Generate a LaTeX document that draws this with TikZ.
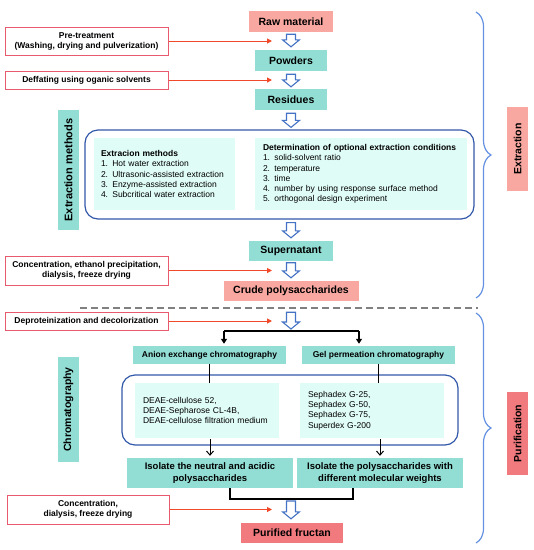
\documentclass[tikz,border=0pt]{standalone}
\usepackage{fontspec}
\setmainfont{Liberation Sans}
\usetikzlibrary{arrows.meta,calc,decorations.pathreplacing}
\definecolor{salmon}{RGB}{248,168,160}
\definecolor{salmondk}{RGB}{240,122,126}
\definecolor{tealbox}{RGB}{147,222,212}
\definecolor{paleteal}{RGB}{224,252,247}
\definecolor{redbord}{RGB}{232,90,110}
\definecolor{redarr}{RGB}{240,72,40}
\definecolor{bluebox}{RGB}{50,88,170}
\definecolor{bluearr}{RGB}{68,114,196}
\definecolor{bracecol}{RGB}{100,145,225}
\newcommand\hollowarr[2]{%
  \draw[hollow] let \p1=(#1), \p2=(#2) in
   (\x1-4.5pt,\y1) -- (\x1+4.5pt,\y1) -- (\x1+4.5pt,\y2+7pt) -- (\x1+8.5pt,\y2+7pt)
   -- (\x1,\y2) -- (\x1-8.5pt,\y2+7pt) -- (\x1-4.5pt,\y2+7pt) -- cycle;}
\tikzset{
  sz/.style 2 args={minimum width=#1 pt, minimum height=#2 pt},
  mainbox/.style={inner sep=0pt, font=\fontsize{10.5}{12}\selectfont\bfseries},
  leftbox/.style={draw=redbord, line width=1pt, fill=white, inner sep=0pt, align=center,
    font=\fontsize{8.5}{10}\selectfont\bfseries},
  innerbox/.style={fill=paleteal, inner ysep=0pt, inner xsep=7pt, align=left,
    font=\fontsize{8.5}{10.25}\selectfont},
  bigbox/.style={draw=bluebox, line width=1.2pt, rounded corners=13pt, inner sep=0pt},
  headbox/.style={fill=tealbox, inner sep=0pt, font=\fontsize{8.5}{10}\selectfont\bfseries},
  isobox/.style={fill=tealbox, inner sep=0pt, align=center, font=\fontsize{9.5}{12}\selectfont\bfseries},
  sidelab/.style={inner sep=0pt, rotate=90, font=\fontsize{10.5}{12}\selectfont\bfseries},
  hollow/.style={draw=bluearr, line width=1.1pt, fill=white, line join=miter},
  redline/.style={draw=redarr, line width=1pt, -{Triangle[width=5pt,length=5pt]}},
  blk/.style={draw=black, line width=1.3pt},
  blktip/.style={blk, -{Triangle[width=6pt,length=5pt]}},
  blkopen/.style={draw=black, line width=1pt, -{Straight Barb[width=7pt,length=4pt]}},
  bracedraw/.style={draw=bracecol, line width=1.2pt, decorate, decoration={brace, amplitude=15pt}},
  sepline/.style={draw=gray, line width=1.5pt, dash pattern=on 7pt off 4pt}
}
\begin{document}
\begin{tikzpicture}[x=1pt,y=-1pt]
\useasboundingbox (0,0) rectangle (534,550);
% main column
\node[mainbox, fill=salmon, sz={84}{21}] (raw) at (291,21.5) {Raw material};
\node[mainbox, fill=tealbox, sz={72}{21}] (powders) at (291,60.5) {Powders};
\node[mainbox, fill=tealbox, sz={72}{21}] (residues) at (291,99.5) {Residues};
\node[bigbox, sz={389}{89}] (ebox) at (279.5,174.5) {};
\node[innerbox, text width=127pt, minimum height=72pt] (em) at (164.5,174) {\textbf{Extracion methods}\\1. Hot water extraction\\2. Ultrasonic-assisted extraction\\3. Enzyme-assisted extraction\\4. Subcritical water extraction};
\node[innerbox, inner xsep=8pt, text width=196pt, minimum height=72pt] (dc) at (361,174) {\textbf{Determination of optional extraction conditions}\\1. solid-solvent ratio\\2. temperature\\3. time\\4. number by using response surface method\\5. orthogonal design experiment};
\node[mainbox, fill=tealbox, sz={84}{20}] (super) at (291,251) {Supernatant};
\node[mainbox, fill=salmon, sz={135}{20}] (crude) at (291,291) {Crude polysaccharides};
% left boxes
\node[leftbox, sz={163}{28}] (pre) at (86.5,41) {Pre-treatment\\(Washing, drying and pulverization)};
\node[leftbox, sz={163}{18}] (def) at (86.5,80) {Deffating using oganic solvents};
\node[leftbox, sz={163}{29}] (conc1) at (86.5,270.5) {Concentration, ethanol precipitation,\\dialysis, freeze drying};
\node[leftbox, sz={163}{18}] (dep) at (86.5,321) {Deproteinization and decolorization};
\node[leftbox, sz={162}{29}] (conc2) at (88,509.5) {Concentration,\\dialysis, freeze drying};
\coordinate (tipx) at (272,0);
\foreach \b in {pre,def,conc1,dep,conc2}{\draw[redline] (\b.east) -- (\b.east -| tipx);}
% side labels
\node[sidelab, font=\fontsize{11}{12}\selectfont\bfseries, fill=tealbox, sz={120}{21}] (exm) at (68.5,170) {Extraction methods};
\node[sidelab, fill=tealbox, sz={105}{21}] (chm) at (68.5,409.5) {Chromatography};
\node[sidelab, fill=salmon, sz={84}{21}] (extl) at (517.5,149) {Extraction};
\node[sidelab, fill=salmondk, sz={83}{21}] (purl) at (517.5,433.5) {Purification};
% braces and separator
\coordinate (b1t) at (476,12); \coordinate (b1b) at (476,298);
\coordinate (b2t) at (476,313); \coordinate (b2b) at (476,543);
\draw[bracedraw] (b1t) -- (b1b);
\draw[bracedraw] (b2t) -- (b2b);
\coordinate (s1) at (80,308); \coordinate (s2) at (478,308);
\draw[sepline] (s1) -- (s2);
% purification part
\node[headbox, sz={153}{18}] (anion) at (209.5,355) {Anion exchange chromatography};
\node[headbox, sz={153}{18}] (gel) at (378.5,355) {Gel permeation chromatography};
\node[bigbox, sz={336}{70}] (cbox) at (290,410) {};
\node[innerbox, inner xsep=8pt, text width=128pt, minimum height=55pt] (cl) at (207,410.5) {DEAE-cellulose 52,\\DEAE-Sepharose CL-4B,\\DEAE-cellulose filtration medium};
\node[innerbox, inner xsep=8pt, text width=128pt, minimum height=55pt] (cr) at (372,410.5) {Sephadex G-25,\\Sephadex G-50,\\Sephadex G-75,\\Superdex G-200};
\node[isobox, sz={166}{30}] (isoL) at (210,473) {Isolate the neutral and acidic\\polysaccharides};
\node[isobox, sz={166}{30}] (isoR) at (380,473) {Isolate the polysaccharides with\\different molecular weights};
\node[mainbox, fill=salmondk, sz={102}{20}] (pur) at (292,533) {Purified fructan};
% black connectors
\coordinate (j) at (291,331); \coordinate (jl) at (224,331); \coordinate (jr) at (359,331);
\draw[blk] (jl) -- (jr);
\draw[blktip] (jl) -- ($(jl |- anion.north)+(0,-2)$);
\draw[blktip] (jr) -- ($(jr |- gel.north)+(0,-2)$);
\draw[blk, line width=1pt] (anion.south) -- (anion.south |- cl.north);
\draw[blk, line width=1pt] (gel.south) -- (gel.south |- cr.north);
\draw[blkopen] ($(isoL.north |- cl.south)+(0,1)$) -- ($(isoL.north)+(0,-2)$);
\draw[blkopen] ($(isoR.north |- cr.south)+(0,1)$) -- ($(isoR.north)+(0,-2)$);
\coordinate (bl) at (230,499); \coordinate (br) at (353,499); \coordinate (bm) at (291,499);
\draw[blk] (bl |- isoL.south) -- (bl) -- (br) -- (br |- isoR.south);
% hollow arrows
\hollowarr{$(raw.south)+(0,2)$}{$(powders.north)+(0,-3)$}
\hollowarr{$(powders.south)+(0,3)$}{$(residues.north)+(0,-2)$}
\hollowarr{$(residues.south)+(0,3)$}{$(residues.south |- ebox.north)+(0,-2)$}
\hollowarr{$(super.north |- ebox.south)+(0,3)$}{$(super.north)+(0,-3)$}
\hollowarr{$(super.south)+(0,1.5)$}{$(crude.north)+(0,-3)$}
\hollowarr{$(crude.south)+(0,11)$}{$(j)+(0,-2)$}
\hollowarr{$(bm)+(0,2)$}{$(pur.north)+(0,-4)$}
\end{tikzpicture}
\end{document}
